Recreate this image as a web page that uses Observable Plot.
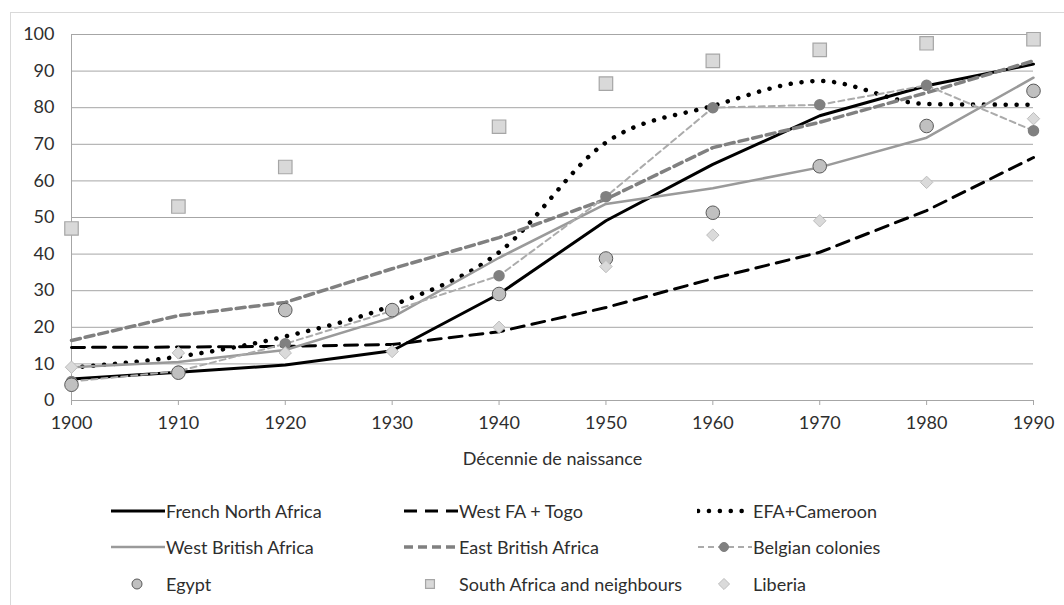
<!DOCTYPE html>
<html>
<head>
<meta charset="utf-8">
<script src="https://cdn.jsdelivr.net/npm/d3@7"></script>
<script src="https://cdn.jsdelivr.net/npm/@observablehq/plot@0.6"></script>
<style>
  html, body { margin: 0; padding: 0; background: #fff; width: 1064px; height: 605px; overflow: hidden; font-family: Lato, "Open Sans", sans-serif; }
  #frame { position: absolute; left: 10px; top: 12px; width: 1080px; height: 620px; border: 1px solid #d9d9d9; box-sizing: border-box; }
  #chart { position: absolute; left: 0; top: 0; }
  #legend { position: absolute; left: 0; top: 0; width: 1064px; height: 605px; pointer-events: none; }
  .item { position: absolute; display: flex; align-items: center; height: 24px; font-size: 18px; color: #2e2e2e; white-space: nowrap; }
  .item svg { display: block; }
</style>
</head>
<body>
<div id="frame"></div>
<div id="chart"></div>
<div id="legend"></div>
<script>
// ---- data ----
const decades = [1900, 1910, 1920, 1930, 1940, 1950, 1960, 1970, 1980, 1990];
const yTicks = [0, 10, 20, 30, 40, 50, 60, 70, 80, 90, 100];
const seriesNames = [
  "French North Africa", "West FA + Togo", "EFA+Cameroon",
  "West British Africa", "East British Africa", "Belgian colonies",
  "Egypt", "South Africa and neighbours", "Liberia"
];
const frenchNorthAfrica = [5.9, 7.7, 9.7, 13.6, 29.1, 49.1, 64.5, 77.8, 86.0, 91.9];
const westFATogo       = [14.5, 14.6, 14.8, 15.3, 18.8, 25.4, 33.3, 40.5, 51.9, 66.4];
const efaCameroon      = [9.0, 12.0, 17.5, 26.0, 40.5, 70.5, 80.5, 87.3, 81.0, 80.8];
const westBritish      = [9.1, 10.5, 13.8, 22.7, 39.0, 53.7, 58.0, 63.7, 71.8, 88.2];
const eastBritish      = [16.4, 23.2, 26.8, 36.0, 44.5, 55.0, 69.1, 76.0, 84.1, 92.8];
const belgian          = [5.2, 8.0, 15.5, 24.5, 34.1, 55.7, 80.0, 80.8, 86.1, 73.7];
const egypt            = [4.3, 7.6, 24.7, 24.7, 29.1, 38.8, 51.3, 64.0, 75.0, 84.6];
const southAfrica      = [47.0, 53.0, 63.8, null, 74.8, 86.6, 92.8, 95.8, 97.6, 98.7];
const liberia          = [9.1, 13.0, 13.0, 13.4, 20.0, 36.6, 45.2, 49.1, 59.6, 77.0];

const seriesValues = [frenchNorthAfrica, westFATogo, efaCameroon, westBritish, eastBritish, belgian, egypt, southAfrica, liberia];

// ---- styles ----
const styles = [
  {line: {stroke: "#000", strokeWidth: 3}},
  {line: {stroke: "#000", strokeWidth: 3, strokeDasharray: "13,8"}},
  {line: {stroke: "#000", strokeWidth: 4.5, strokeDasharray: "0.1,10.8", strokeLinecap: "round", curve: "monotone-x"}},
  {line: {stroke: "#9a9a9a", strokeWidth: 2.5}},
  {line: {stroke: "#808080", strokeWidth: 3.5, strokeDasharray: "9,5"}},
  {line: {stroke: "#ababab", strokeWidth: 2, strokeDasharray: "6,4"}, dot: {r: 5, fill: "#808080", stroke: "#808080", symbol: "circle"}},
  {dot: {r: 6.8, fill: "#c0c0c0", stroke: "#595959", strokeWidth: 1, symbol: "circle"}},
  {dot: {r: 7.6, fill: "#d9d9d9", stroke: "#a6a6a6", strokeWidth: 1.2, symbol: "square"}},
  {dot: {r: 5.6, fill: "#dadada", stroke: "#bdbdbd", strokeWidth: 1, symbol: "diamond2"}}
];

const rows = [];
seriesNames.forEach((name, i) => {
  seriesValues[i].forEach((v, j) => rows.push({series: name, decade: decades[j], value: v}));
});

const marks = [
  Plot.gridY(yTicks, {stroke: "#a6a6a6", strokeOpacity: 1, strokeWidth: 1}),
  Plot.ruleX([1900], {y1: 0, y2: 100, stroke: "#a6a6a6"}),
  Plot.axisY({ticks: yTicks, tickSize: 0, tickPadding: 17, label: null, fontSize: 18}),
  Plot.axisX({ticks: decades, tickSize: 5, tickPadding: 11, tickFormat: "d", stroke: "#a6a6a6", fontSize: 18,
    label: "Décennie de naissance", labelAnchor: "center", labelArrow: "none", labelOffset: 64})
];
seriesNames.forEach((name, i) => {
  const data = rows.filter(d => d.series === name && d.value != null);
  const st = styles[i];
  if (st.line) marks.push(Plot.line(data, {x: "decade", y: "value", curve: "linear", ...st.line}));
  if (st.dot) marks.push(Plot.dot(data, {x: "decade", y: "value", ...st.dot}));
});

const chart = Plot.plot({
  width: 1064, height: 475,
  marginLeft: 71, marginRight: 31, marginTop: 34, marginBottom: 75,
  style: {fontFamily: "Lato, sans-serif", fontSize: "18px", color: "#2e2e2e", background: "transparent", overflow: "visible"},
  x: {domain: [1900, 1990]},
  y: {domain: [0, 100]},
  marks
});
document.getElementById("chart").appendChild(chart);

// ---- legend ----
const colX = [110, 403, 697];
const rowY = [511, 547, 584];
const legend = d3.select("#legend");
seriesNames.forEach((name, i) => {
  const col = i % 3, row = Math.floor(i / 3);
  const st = styles[i];
  const item = legend.append("div").attr("class", "item")
    .style("left", colX[col] + "px").style("top", (rowY[row] - 12) + "px");
  const svg = item.append("svg").attr("width", 56).attr("height", 24);
  if (st.line) {
    svg.append("line").attr("x1", 1).attr("x2", 55).attr("y1", 12).attr("y2", 12)
      .attr("stroke", st.line.stroke).attr("stroke-width", st.line.strokeWidth)
      .attr("stroke-dasharray", st.line.strokeDasharray || null)
      .attr("stroke-linecap", st.line.strokeLinecap || "butt");
  }
  if (st.dot) {
    const r = st.line ? 4.5 : 5;
    const symMap = {circle: d3.symbolCircle, square: d3.symbolSquare, diamond2: d3.symbolDiamond2};
    svg.append("path").attr("transform", "translate(27,12)")
      .attr("d", d3.symbol(symMap[st.dot.symbol], Math.PI * r * r)())
      .attr("fill", st.dot.fill).attr("stroke", st.dot.stroke).attr("stroke-width", st.dot.strokeWidth || 1);
  }
  item.append("span").text(name);
});
</script>
</body>
</html>
